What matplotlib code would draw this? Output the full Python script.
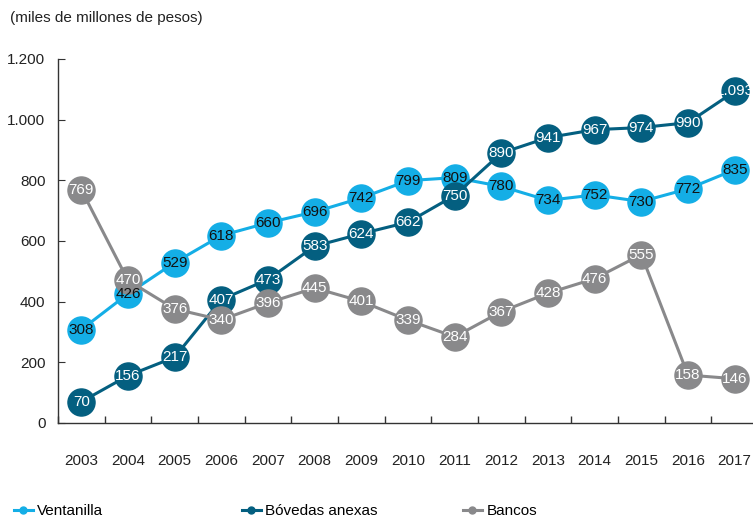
import matplotlib
matplotlib.use("Agg")
import matplotlib.pyplot as plt
from matplotlib.lines import Line2D

years = ["2003", "2004", "2005", "2006", "2007", "2008", "2009", "2010",
         "2011", "2012", "2013", "2014", "2015", "2016", "2017"]
ventanilla = [308, 426, 529, 618, 660, 696, 742, 799, 809, 780, 734, 752, 730, 772, 835]
bovedas = [70, 156, 217, 407, 473, 583, 624, 662, 750, 890, 941, 967, 974, 990, 1093]
bancos = [769, 470, 376, 340, 396, 445, 401, 339, 284, 367, 428, 476, 555, 158, 146]
y_ticks = [0, 200, 400, 600, 800, 1000, 1200]
y_tick_labels = ["0", "200", "400", "600", "800", "1.000", "1.200"]

plt.rcParams['font.family'] = ['Liberation Sans', 'DejaVu Sans']

C_VENT = "#14aee6"
C_BOV = "#045f80"
C_BAN = "#89898b"
AX_C = "#333333"

fig = plt.figure(figsize=(7.53, 5.19), dpi=100)
W, H = 753, 519
ax = fig.add_axes([58 / W, 96 / H, 700 / W, 364 / H])

x = list(range(len(years)))
series = [
    (ventanilla, C_VENT, "#111111", "Ventanilla"),
    (bovedas, C_BOV, "white", "Bóvedas anexas"),
    (bancos, C_BAN, "white", "Bancos"),
]

def fmt(v):
    return f"{v:,}".replace(",", ".")

z = 2
for vals, col, tcol, name in series:
    ax.plot(x, vals, color=col, lw=2.2, marker="o", ms=19.5, mec=col, mfc=col,
            zorder=z, clip_on=False)
    for xi, v in zip(x, vals):
        ax.text(xi, v, fmt(v), color=tcol, ha="center", va="center",
                fontsize=11, zorder=10, clip_on=False)
    z += 1

ax.set_xlim(-0.5, len(years) - 0.5)
ax.set_ylim(0, 1200)
ax.set_yticks(y_ticks)
ax.set_yticklabels(y_tick_labels)
ax.set_xticks(x)
ax.set_xticklabels(years)
ax.set_xticks([i + 0.5 for i in range(-1, len(years))], minor=True)

for s in ["top", "right"]:
    ax.spines[s].set_visible(False)
for s in ["left", "bottom"]:
    ax.spines[s].set_color(AX_C)
    ax.spines[s].set_linewidth(1.0)

ax.tick_params(axis="x", which="major", length=0, pad=22, labelsize=11, colors="#222222")
ax.tick_params(axis="x", which="minor", direction="in", length=5, color=AX_C, width=1)
ax.tick_params(axis="y", direction="in", length=5, pad=9, labelsize=11, color=AX_C,
               labelcolor="#222222")

fig.text(10 / W, 1 - 18 / H, "(miles de millones de pesos)", fontsize=11,
         va="center", ha="left", color="#222222")

legend_pos = [(9 / W, C_VENT, "Ventanilla"), (237 / W, C_BOV, "Bóvedas anexas"),
              (458 / W, C_BAN, "Bancos")]
for xpos, col, name in legend_pos:
    h = Line2D([0], [0], color=col, lw=2.2, marker="o", ms=5)
    fig.legend(handles=[h], labels=[name], loc="center left",
               bbox_to_anchor=(xpos, 1 - 511 / H), frameon=False, fontsize=11,
               handlelength=1.25, handletextpad=0.3, borderaxespad=0, borderpad=0.3)

fig.savefig("out.png", dpi=100)
